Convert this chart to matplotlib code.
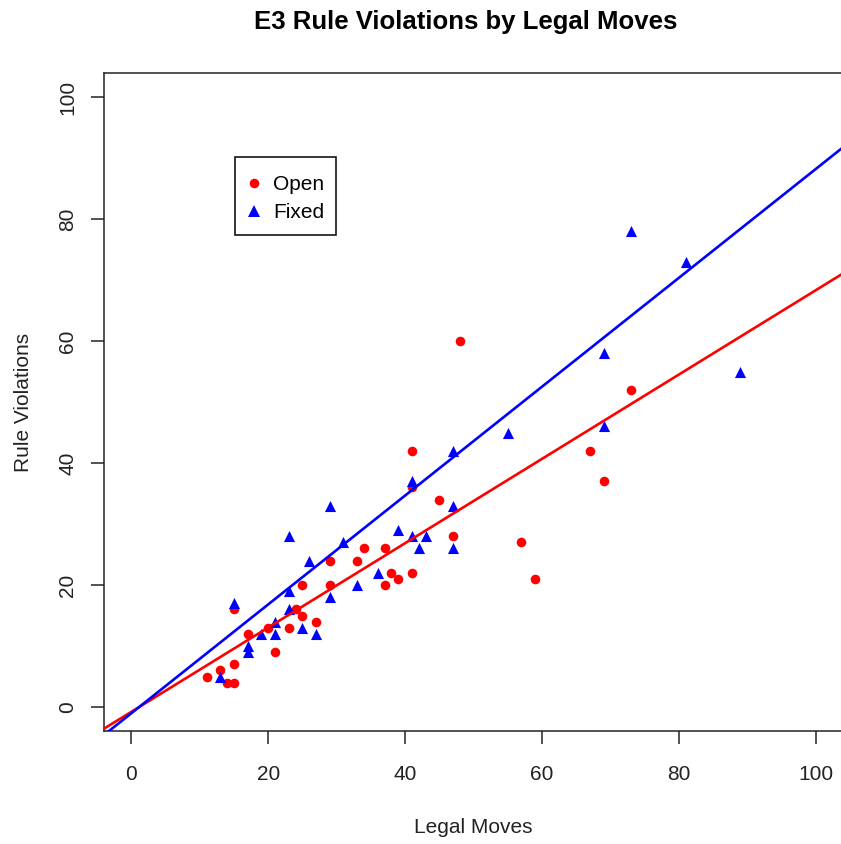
import matplotlib
matplotlib.use("Agg")
import matplotlib.pyplot as plt
from matplotlib.lines import Line2D
from matplotlib.patches import Rectangle

plt.rcParams['font.family'] = ['Liberation Sans', 'DejaVu Sans']

# Open condition (red circles)
open_moves = [11, 13, 14, 15, 15, 15, 17, 20, 21, 23, 24, 25, 25, 27, 29, 29, 33, 34,
              37, 37, 38, 39, 41, 41, 41, 45, 47, 48, 57, 59, 67, 69, 73]
open_viol = [5, 6, 4, 4, 7, 16, 12, 13, 9, 13, 16, 20, 15, 14, 24, 20, 24, 26,
             26, 20, 22, 21, 22, 36, 42, 34, 28, 60, 27, 21, 42, 37, 52]

# Fixed condition (blue triangles)
fixed_moves = [13, 15, 17, 17, 19, 21, 21, 23, 23, 23, 25, 26, 27, 29, 29, 31, 33, 36,
               39, 41, 41, 42, 43, 47, 47, 47, 55, 69, 69, 73, 81, 89]
fixed_viol = [5, 17, 10, 9, 12, 14, 12, 28, 19, 16, 13, 24, 12, 33, 18, 27, 20, 22,
              29, 37, 28, 26, 28, 42, 33, 26, 45, 58, 46, 78, 73, 55]

# fitted lines (intercept, slope)
open_fit = (-0.79, 0.691)
fixed_fit = (-1.02, 0.892)

W, H = 841, 844
fig = plt.figure(figsize=(W / 100, H / 100), dpi=100)
ax = fig.add_axes([104 / W, 1 - 731.4 / H, 739 / W, (731.4 - 72.6) / H])

ax.scatter(open_moves, open_viol, s=48, marker='o', color='#FF0000', linewidths=0, zorder=3)
ax.scatter(fixed_moves, fixed_viol, s=64, marker='^', color='#0000FF', linewidths=0, zorder=3)
ax.axline((0, open_fit[0]), slope=open_fit[1], color='#FF0000', lw=1.9, zorder=4)
ax.axline((0, fixed_fit[0]), slope=fixed_fit[1], color='#0000FF', lw=1.9, zorder=4)

ax.set_xlim(-4, 104)
ax.set_ylim(-4, 104)
ax.set_xticks(range(0, 101, 20))
ax.set_yticks(range(0, 101, 20))
for s in ax.spines.values():
    s.set_linewidth(1.1)
    s.set_color('#222222')
ax.tick_params(direction='out', length=9.4, width=1.1, color='#222222',
               labelsize=15, labelcolor='#222222')
ax.tick_params(axis='x', pad=15)
ax.tick_params(axis='y', pad=10)
for lab in ax.get_yticklabels():
    lab.set_rotation(90)
    lab.set_va('center')

ax.set_xlabel('Legal Moves', fontsize=15, color='#222222', labelpad=24)
ax.set_ylabel('Rule Violations', fontsize=15, color='#222222', labelpad=18)
fig.text(466 / W, 1 - 22 / H, 'E3 Rule Violations by Legal Moves', fontsize=18.5,
         fontweight='bold', ha='center', va='center')

# legend box drawn R-style
fig.add_artist(Rectangle((235 / W, 1 - 235 / H), 101 / W, 78 / H, transform=fig.transFigure,
                         fill=False, edgecolor='black', linewidth=1.1, zorder=5))
handles = [Line2D([], [], ls='none', marker='o', color='#FF0000', markersize=6.9, markeredgewidth=0),
           Line2D([], [], ls='none', marker='^', color='#0000FF', markersize=8.0, markeredgewidth=0)]
leg = ax.legend(handles, ['Open', 'Fixed'], loc='upper left',
                bbox_to_anchor=(243.6 / W, 1 - 175.5 / H), bbox_transform=fig.transFigure,
                fontsize=15, frameon=False, handlelength=1.0, handletextpad=0.41,
                borderpad=0, labelspacing=0.4, borderaxespad=0)

fig.savefig('out.png', dpi=100)
